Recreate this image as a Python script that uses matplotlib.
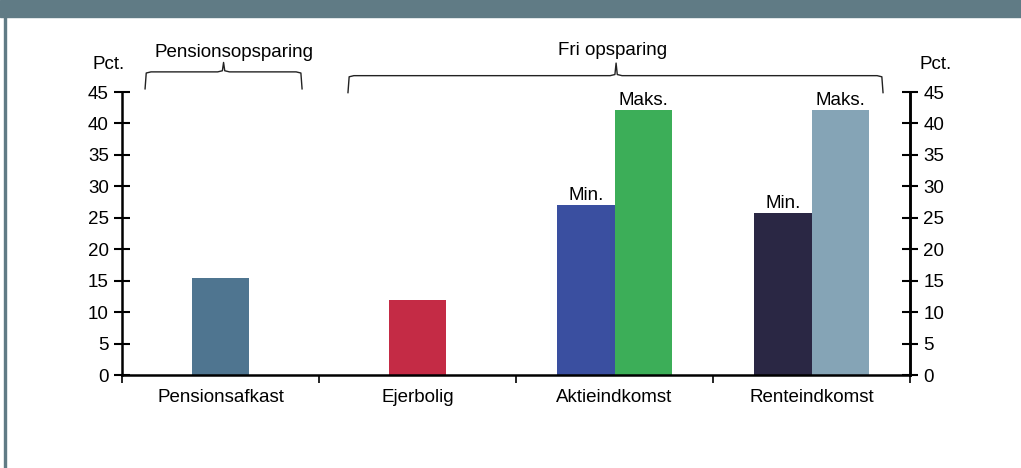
import matplotlib.pyplot as plt
import numpy as np
from matplotlib.patches import Rectangle

plt.rcParams['font.family'] = ['Liberation Sans', 'DejaVu Sans']

categories = ['Pensionsafkast', 'Ejerbolig', 'Aktieindkomst', 'Renteindkomst']
single_vals = [15.4, 12.0]
min_vals = [27.0, 25.8]
max_vals = [42.1, 42.1]
yticks = [0, 5, 10, 15, 20, 25, 30, 35, 40, 45]

single_colors = ['#4f7590', '#c42b45']
min_colors = ['#3a4fa0', '#2a2744']
max_colors = ['#3cae58', '#85a4b6']

fs = 13.5

fig = plt.figure(figsize=(10.21, 4.68), dpi=100)
ax = fig.add_axes([0.1195, 0.1987, 0.7718, 0.6047])

w = 0.29
x = np.arange(len(categories))
ax.bar(x[:2], single_vals, width=w, color=single_colors)
ax.bar(x[2:] - w / 2, min_vals, width=w, color=min_colors)
ax.bar(x[2:] + w / 2, max_vals, width=w, color=max_colors)

for xi, v in zip(x[2:] - w / 2, min_vals):
    ax.text(xi, v + 0.8, 'Min.', ha='center', va='baseline', fontsize=fs)
for xi, v in zip(x[2:] + w / 2, max_vals):
    ax.text(xi, v + 0.8, 'Maks.', ha='center', va='baseline', fontsize=fs)

ax.set_xlim(-0.5, 3.5)
ax.set_ylim(0, 45)
ax.set_yticks(yticks)
ax.set_xticks(x)
ax.set_xticklabels(categories, fontsize=fs)
ax.set_xticks(np.arange(-0.5, 4, 1), minor=True)
ax.tick_params(axis='x', which='major', length=0, pad=10)
ax.tick_params(axis='x', which='minor', direction='out', length=6, width=1.2)
ax.tick_params(axis='y', direction='inout', length=11, width=1.5, labelsize=fs, pad=4)
ax.spines['top'].set_visible(False)
for s in ['left', 'right', 'bottom']:
    ax.spines[s].set_linewidth(1.8)

ax2 = ax.twinx()
ax2.set_ylim(0, 45)
ax2.set_yticks(yticks)
ax2.tick_params(axis='y', direction='inout', length=11, width=1.5, labelsize=fs, pad=4)
for s in ['top', 'left', 'bottom']:
    ax2.spines[s].set_visible(False)
ax2.spines['right'].set_linewidth(1.8)

ax.text(-0.566, 49.3, 'Pct.', ha='center', va='center', fontsize=fs, clip_on=False)
ax.text(3.632, 49.3, 'Pct.', ha='center', va='center', fontsize=fs, clip_on=False)


def brace(x0, x1, xm, ylow, yline, ypeak, r=0.03, ry=0.6):
    pts_x = [x0, x0 + r * 0.2, x0 + r, xm - r, xm - r * 0.2, xm,
             xm + r * 0.2, xm + r, x1 - r, x1 - r * 0.2, x1]
    pts_y = [ylow, yline - ry * 0.3, yline, yline, yline + ry * 0.3, ypeak,
             yline + ry * 0.3, yline, yline, yline - ry * 0.3, ylow]
    ax.plot(pts_x, pts_y, color='#222222', lw=1.0, clip_on=False,
            solid_joinstyle='round')


brace(-0.383, 0.414, 0.0155, 45.5, 48.2, 49.7)
ax.text(0.07, 50.6, 'Pensionsopsparing', ha='center', va='baseline', fontsize=fs, clip_on=False)
brace(0.647, 3.363, 2.008, 44.9, 47.6, 49.6)
ax.text(1.99, 50.9, 'Fri opsparing', ha='center', va='baseline', fontsize=fs, clip_on=False)

band = '#607b85'
fig.patches.append(Rectangle((0, 1 - 17 / 468), 1, 17 / 468, transform=fig.transFigure,
                             color=band, zorder=0))
fig.patches.append(Rectangle((3.5 / 1021, 0), 2.5 / 1021, 1, transform=fig.transFigure,
                             color=band, zorder=0))

fig.savefig('out.png', dpi=100)
